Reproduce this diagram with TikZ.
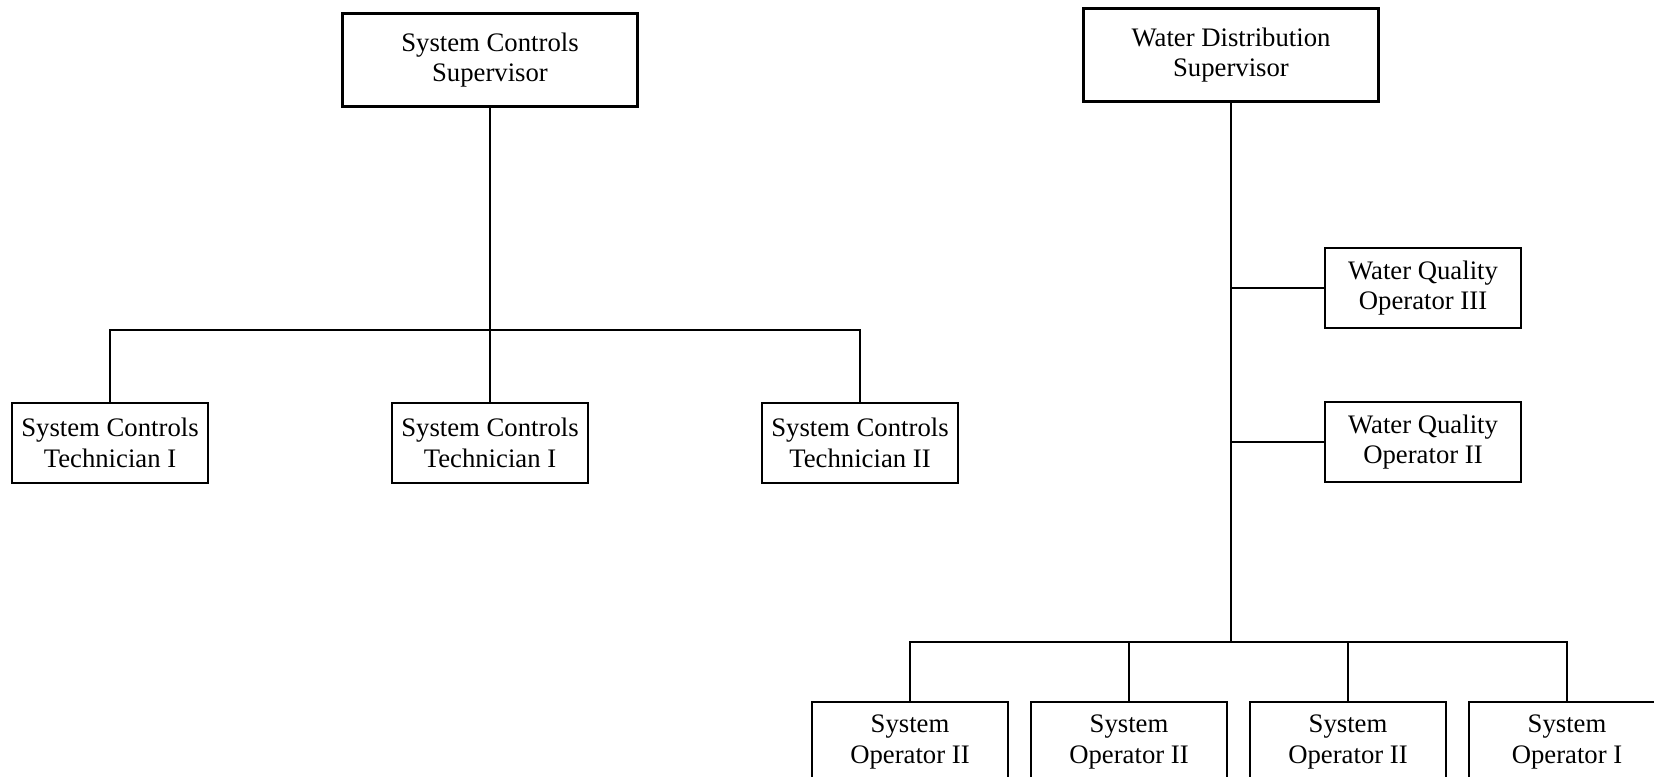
\documentclass[tikz,border=0pt]{standalone}
\usepackage{fontspec}
\setmainfont{Liberation Serif}
\usetikzlibrary{positioning}

\begin{document}
\begin{tikzpicture}[on grid,
    every node/.style={align=center,font=\fontsize{15.2}{17.5}\selectfont},
    head/.style={draw,line width=1.4pt,minimum width=5.9cm,minimum height=1.86cm},
    post/.style={draw,line width=1.4pt,minimum width=3.92cm,minimum height=1.6cm},
    link/.style={line width=0.9pt}]
    \useasboundingbox (0,0) rectangle (33.08,-15.54);
    \node[head]  (scs)                      at (9.8,-1.2)   {System Controls\\Supervisor};
    \node[post]  (sct_2) [below=7.66cm of scs]              {System Controls\\Technician I};
    \node[post]  (sct_1) [left=7.6cm of sct_2]              {System Controls\\Technician I};
    \node[post]  (sct_3) [right=7.4cm of sct_2]             {System Controls\\Technician II};
    \coordinate[below=5.4cm of scs] (scj);
    \node[head]  (wds)                      at (24.62,-1.1) {Water Distribution\\Supervisor};
    \node[post]  (wq_3)  [below right=4.66cm and 3.84cm of wds] {Water Quality\\Operator III};
    \node[post]  (wq_2)  [below=3.08cm of wq_3]             {Water Quality\\Operator II};
    \node[post]  (so_1)  [below left=13.74cm and 6.42cm of wds] {System\\Operator II};
    \node[post]  (so_2)  [right=4.38cm of so_1]             {System\\Operator II};
    \node[post]  (so_3)  [right=4.38cm of so_2]             {System\\Operator II};
    \node[post]  (so_4)  [right=4.38cm of so_3]             {System\\Operator I};
    \coordinate[below=11.74cm of wds] (wdj);
    \draw[link] (scs) -- (scj) -- (sct_2)
                (sct_1) |- (scj) -| (sct_3);
    \draw[link] (wds) -- (wdj)
                (so_1) |- (wdj) -| (so_4)
                (so_2) -- (so_2 |- wdj)
                (so_3) -- (so_3 |- wdj)
                (wq_3) -- (wq_3 -| wdj)
                (wq_2) -- (wq_2 -| wdj);
\end{tikzpicture}
\end{document}
